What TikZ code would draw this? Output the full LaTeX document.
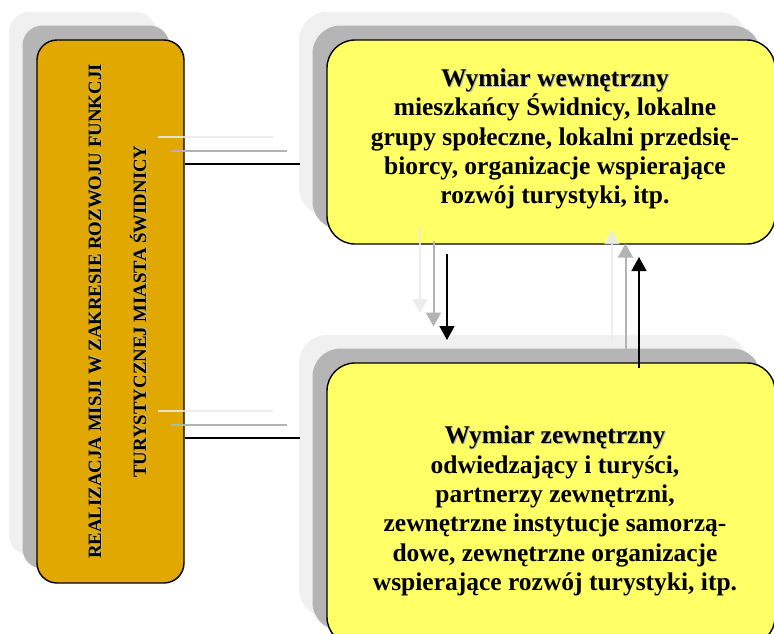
\documentclass[tikz,border=0pt]{standalone}
\usepackage{fontspec}
\setmainfont{Liberation Serif}
\usetikzlibrary{arrows.meta,shadows,calc}
\definecolor{orangebox}{HTML}{E0A800}
\definecolor{yellowbox}{HTML}{FFFF66}
\definecolor{shdark}{HTML}{B5B5B5}
\definecolor{shlight}{HTML}{F0F0F0}
\definecolor{lndark}{HTML}{B3B3B3}
\definecolor{lnlight}{HTML}{EBEBEB}
\newcommand\shtxt[1]{\makebox[0pt][l]{\hspace{1pt}\raisebox{-1pt}{\textcolor{black!28}{#1}}}#1}
\tikzset{
  boxbase/.style={draw=black, line width=1.4pt, inner sep=0pt,
    general shadow={shadow xshift=-28pt, shadow yshift=28pt, fill=shlight},
    general shadow={shadow xshift=-14.5pt, shadow yshift=14.5pt, fill=shdark}},
  leftbox/.style={boxbase, fill=orangebox, rounded corners=20pt, minimum width=147pt, minimum height=543pt},
  rightbox/.style={boxbase, fill=yellowbox, rounded corners=28pt, minimum width=448pt},
  conn/.style={line width=1.5pt, black},
  conndark/.style={line width=2pt, lndark},
  connlight/.style={line width=2pt, lnlight, opacity=0.85},
  arr/.style={conn, -{Triangle[width=15pt,length=14pt]}},
  arrdark/.style={conndark, -{Triangle[width=15pt,length=14pt]}},
  arrlight/.style={connlight, -{Triangle[width=15pt,length=14pt]}},
  bodytxt/.style={font=\bfseries\fontsize{25.5}{29.3}\selectfont, align=center, inner sep=0pt},
}
\begin{document}
\begin{tikzpicture}[x=1pt,y=-1pt]
\useasboundingbox (0,0) rectangle (774,633);
\clip (0,0) rectangle (774,633);

% boxes
\node[leftbox] (L) at (110.5,311.5) {};
\node[rightbox, minimum height=204pt] (T) at (551,142) {};
\node[rightbox, minimum height=282pt] (B) at (551,504) {};

% texts
\node[rotate=90, align=center, inner sep=0pt, font=\bfseries\fontsize{18.8}{45}\selectfont] (Lt) at (118,311.5)
  {\shtxt{REALIZACJA MISJI W ZAKRESIE ROZWOJU FUNKCJI}\\\shtxt{TURYSTYCZNEJ MIASTA ŚWIDNICY}};
\node[bodytxt] (Tt) at (555,139)
  {\shtxt{Wymiar wewnętrzny}\\mieszkańcy Świdnicy, lokalne\\grupy społeczne, lokalni przedsię-\\biorcy, organizacje wspierające\\rozwój turystyki, itp.};
\node[bodytxt] (Bt) at (555,511)
  {\shtxt{Wymiar zewnętrzny}\\odwiedzający i turyści,\\partnerzy zewnętrzni,\\zewnętrzne instytucje samorzą-\\dowe, zewnętrzne organizacje\\wspierające rozwój turystyki, itp.};

% connector end points
\coordinate (h1) at (300,164);
\coordinate (h2) at (300,438);
\coordinate (d1) at (447,254);
\coordinate (d2) at (447,340);
\coordinate (u1) at (639,368);
\coordinate (u2) at (639,257);

% horizontal connectors
\draw[connlight] ($(L.east|-h1)+(-27,-27)$) -- ($(h1)+(-27,-27)$);
\draw[conndark]  ($(L.east|-h1)+(-13.5,-13.5)$) -- ($(h1)+(-13.5,-13.5)$);
\draw[conn] (L.east|-h1) -- (h1);
\draw[connlight] ($(L.east|-h2)+(-27,-27)$) -- ($(h2)+(-27,-27)$);
\draw[conndark]  ($(L.east|-h2)+(-13.5,-13.5)$) -- ($(h2)+(-13.5,-13.5)$);
\draw[conn] (L.east|-h2) -- (h2);

% vertical arrows
\draw[arrlight] ($(d1)+(-27,-27)$) -- ($(d2)+(-27,-27)$);
\draw[arrdark]  ($(d1)+(-13.5,-13.5)$) -- ($(d2)+(-13.5,-13.5)$);
\draw[arr] (d1) -- (d2);
\draw[arrlight] ($(u1)+(-27,-27)$) -- ($(u2)+(-27,-27)$);
\draw[arrdark]  ($(u1)+(-13.5,-13.5)$) -- ($(u2)+(-13.5,-13.5)$);
\draw[arr] (u1) -- (u2);
\end{tikzpicture}
\end{document}
